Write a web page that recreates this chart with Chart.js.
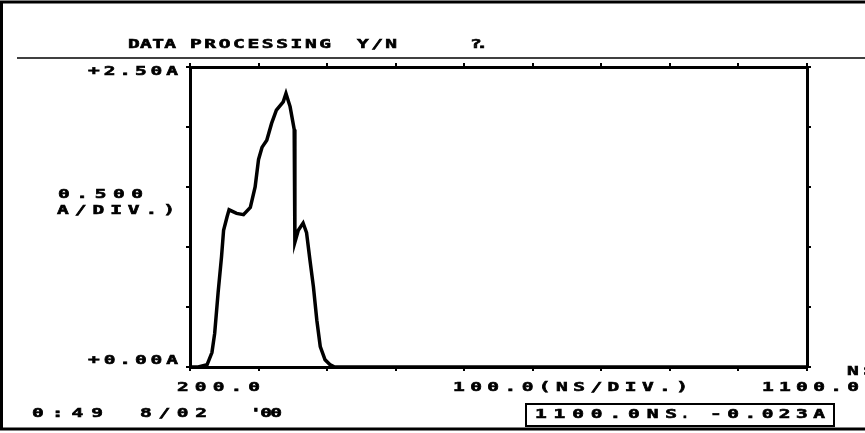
<!DOCTYPE html>
<html>
<head>
<meta charset="utf-8">
<script src="https://cdn.jsdelivr.net/npm/chart.js@4.4.1/dist/chart.umd.min.js"></script>
<style>
    html, body { margin: 0; padding: 0; background: #fff; }
    #scope { display: block; }
</style>
</head>
<body>
<canvas id="scope" width="865" height="433"></canvas>
<script>
// trace: time (ns) vs current (A)
const timeNs = [200, 212, 225, 232, 236, 241, 246, 249, 254, 257, 268, 278, 288, 295, 300, 305, 312, 319, 326, 336, 340,
    346, 352, 353, 358, 365, 370, 375, 380, 385, 390, 397, 404, 411, 1100];
const currentA = [0, 0, 0.02, 0.12, 0.28, 0.62, 0.92, 1.14, 1.25, 1.31, 1.28, 1.27, 1.33, 1.50, 1.73, 1.83, 1.89, 2.03, 2.14, 2.21, 2.28,
    2.17, 1.98, 1.04, 1.14, 1.20, 1.12, 0.89, 0.67, 0.39, 0.17, 0.06, 0.02, 0, 0];

const xRange = [200, 1100];
const xStep = 100;
const yRange = [0, 2.5];
const yStep = 0.5;

const titleText = ['DATA', 'PROCESSING', 'Y/N', '?.'];
const yTickLabels = ['+2.50A', '0.500', 'A/DIV.)', '+0.00A'];
const xTickLabels = ['200.0', '100.0(NS/DIV.)', '1100.0'];
const footerLabels = ['0:49', '8/02', "'00"];
const cursorLabels = ['1100.0NS', '.', '-0.023A'];

// where each piece of text sits on the screen: [left, right, middle y]
const titlePos = [[128, 176, 45], [190, 331, 45], [357, 397, 45], [470, 488, 45]];
const yTickPos = [[88, 178, 72], [58, 143, 195], [57, 175, 211], [88, 178, 361]];
const xTickPos = [[177, 260, 388], [453, 688, 388], [762, 859, 388]];
const footerPos = [[32, 103, 414], [140, 207, 414], [250, 282, 414]];
const cursorPos = [[535, 677, 415], [681, 685, 415], [710, 825, 415]];

const glyphWiden = 1.5;

function fit_text(ctx, str, pos) {
    ctx.save();
    ctx.letterSpacing = '0px';
    let w = ctx.measureText(str).width;
    let sx = str.length > 1 ? glyphWiden : 1;
    let gap = str.length > 1 ? ((pos[1] - pos[0]) / sx - w) / (str.length - 1) : 0;
    ctx.translate(pos[0], pos[2]);
    ctx.scale(sx, 1);
    ctx.letterSpacing = gap + 'px';
    ctx.fillText(str, 0, 0);
    ctx.lineWidth = 0.6;
    ctx.strokeText(str, 0, 0);
    ctx.restore();
}

function draw_group(ctx, labels, pos) {
    for (let i = 0; i < labels.length; i++) {
        fit_text(ctx, labels[i], pos[i]);
    }
}

const screenText = {
    id: 'screenText',
    beforeDraw: function (chart) {
        let ctx = chart.ctx;
        ctx.save();
        ctx.fillStyle = '#fff';
        ctx.fillRect(0, 0, chart.width, chart.height);
        ctx.restore();
    },
    afterDraw: function (chart) {
        let ctx = chart.ctx;
        ctx.save();
        ctx.strokeStyle = '#000';
        // screen frame
        ctx.lineWidth = 3;
        ctx.beginPath();
        ctx.moveTo(870, 2);
        ctx.lineTo(1.5, 2);
        ctx.lineTo(1.5, 429);
        ctx.lineTo(870, 429);
        ctx.stroke();
        // rule under the prompt
        ctx.lineWidth = 1.5;
        ctx.beginPath();
        ctx.moveTo(17, 58);
        ctx.lineTo(865, 58);
        ctx.stroke();
        // cursor readout box
        ctx.lineWidth = 2;
        ctx.strokeRect(526, 404, 308, 22);

        ctx.fillStyle = '#000';
        ctx.font = 'bold 13px "DejaVu Sans Mono"';
        ctx.textBaseline = 'middle';
        ctx.textAlign = 'left';
        draw_group(ctx, titleText, titlePos);
        draw_group(ctx, yTickLabels, yTickPos);
        draw_group(ctx, xTickLabels, xTickPos);
        draw_group(ctx, footerLabels, footerPos);
        draw_group(ctx, cursorLabels, cursorPos);
        fit_text(ctx, 'NS', [847, 875, 372]);
        ctx.restore();
    }
};

function axis(position, range, step) {
    return {
        type: 'linear',
        position: position,
        min: range[0],
        max: range[1],
        ticks: { display: false, stepSize: step },
        border: { display: true, color: '#000', width: 3 },
        grid: { drawOnChartArea: false, drawTicks: true, tickLength: 4, color: '#000', lineWidth: 2 }
    };
}

new Chart(document.getElementById('scope'), {
    type: 'scatter',
    data: {
        datasets: [{
            data: timeNs.map((t, i) => ({ x: t, y: currentA[i] })),
            showLine: true,
            borderColor: '#000',
            borderWidth: 3.5,
            pointRadius: 0,
            tension: 0,
            clip: false
        }]
    },
    options: {
        responsive: false,
        animation: false,
        events: [],
        layout: { padding: { left: 186, top: 63, right: 54, bottom: 62 } },
        plugins: {
            legend: { display: false },
            tooltip: { enabled: false },
            title: { display: false }
        },
        scales: {
            x: axis('bottom', xRange, xStep),
            xTop: axis('top', xRange, xStep),
            y: axis('left', yRange, yStep),
            yRight: axis('right', yRange, yStep)
        }
    },
    plugins: [screenText]
});
</script>
</body>
</html>
